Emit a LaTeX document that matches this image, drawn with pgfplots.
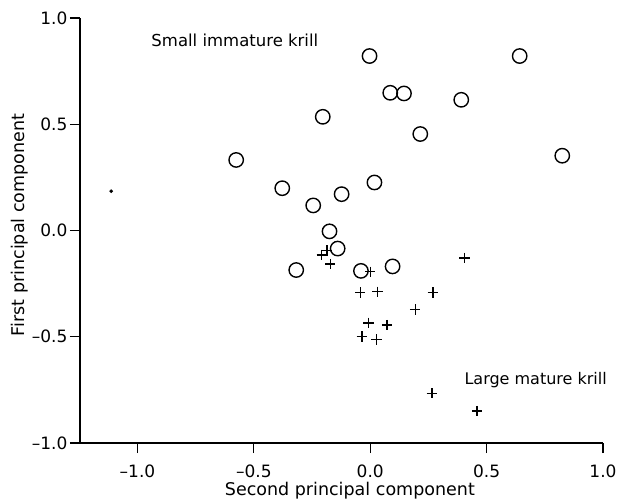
\documentclass[border=0pt]{standalone}
\usepackage{fontspec}
\setmainfont{DejaVu Sans}
\usepackage{pgfplots}
\pgfplotsset{compat=1.18}

\begin{document}
\begin{tikzpicture}
\path[use as bounding box] (-80pt,-55pt) rectangle (546pt,443pt);
\begin{axis}[
    at={(0,0)}, anchor=south west,
    scale only axis,
    width=523pt, height=425pt,
    xmin=-1.247, xmax=1.0,
    ymin=-1.0, ymax=1.0,
    axis x line=bottom, axis y line=left,
    axis line style={-, line width=1.1pt},
    tick align=outside,
    major tick length=10pt,
    tick style={line width=1.1pt, black},
    xtick={-1,-0.5,0,0.5,1},
    xticklabels={–1.0,–0.5,0.0,0.5,1.0},
    ytick={-1,-0.5,0,0.5,1},
    yticklabels={–1.0,–0.5,0.0,0.5,1.0},
    ticklabel style={font=\fontsize{17}{19}\selectfont},
    xticklabel style={yshift=-8pt},
    yticklabel style={xshift=1pt},
    label style={font=\fontsize{17.5}{19}\selectfont},
    xlabel={Second principal component},
    xlabel style={at={(axis description cs:0.516,0)}, anchor=base, yshift=-52pt},
    ylabel={First principal component},
    ylabel style={at={(axis description cs:0,0.513)}, anchor=base, yshift=55pt},
    clip=false,
]
% small immature krill
\addplot[only marks, mark=o, mark size=7.2pt, mark options={line width=1.4pt}] coordinates {
    (-0.576,0.332) (-0.378,0.199) (-0.245,0.118) (-0.204,0.535)
    (-0.003,0.821) (0.086,0.648) (0.145,0.645) (0.391,0.615)
    (0.642,0.821) (0.215,0.454) (0.825,0.352) (0.018,0.226)
    (-0.123,0.171) (-0.175,-0.004) (-0.140,-0.085) (-0.318,-0.186)
    (-0.040,-0.190) (0.096,-0.169)
};
% large mature krill
\addplot[only marks, mark=+, mark size=5.2pt, mark options={line width=1.3pt}] coordinates {
    (-0.208,-0.115) (-0.186,-0.095) (-0.172,-0.158) (0.000,-0.194)
    (0.405,-0.129) (-0.043,-0.292) (0.032,-0.288) (0.269,-0.292)
    (0.193,-0.371) (-0.007,-0.435) (0.072,-0.445) (-0.036,-0.498)
    (0.026,-0.513) (0.265,-0.766) (0.459,-0.850)
};
% single point
\addplot[only marks, mark=*, mark size=1.6pt] coordinates {(-1.113,0.185)};

\node[anchor=west, font=\fontsize{16.5}{18}\selectfont] at (axis cs:-0.955,0.896) {Small immature krill};
\node[anchor=west, font=\fontsize{16}{18}\selectfont] at (axis cs:0.39,-0.706) {Large mature krill};
\end{axis}
\end{tikzpicture}
\end{document}
